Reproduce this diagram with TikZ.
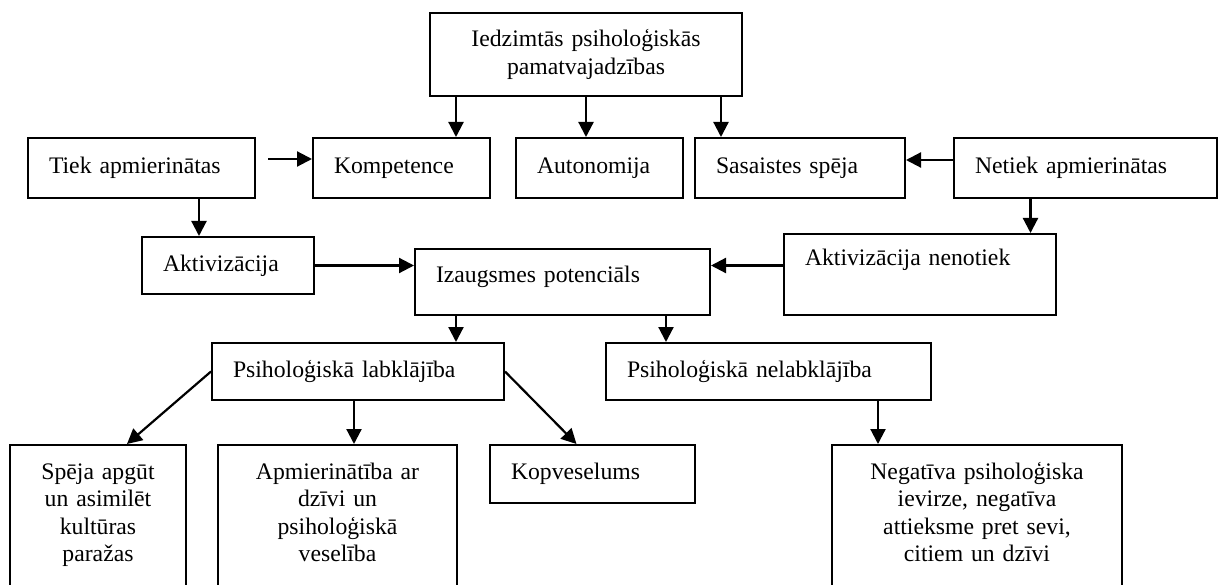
\documentclass[tikz,border=0pt]{standalone}
\usepackage{fontspec}
\setmainfont{Liberation Serif}
\usepackage{tikz}
\usetikzlibrary{positioning,calc,arrows.meta}

\begin{document}
\begin{tikzpicture}[x=1pt,y=-1pt,
    font=\fontsize{23.7}{27.5}\selectfont,
    box/.style={draw, line width=2pt, anchor=north west, inner xsep=21pt, inner ysep=0pt, align=left},
    mbox/.style={box, inner xsep=4pt, align=center},
    arr/.style={line width=2.2pt, -{Triangle[length=15pt,width=15pt]}}]
    \useasboundingbox (0,0) rectangle (1218,585);

    % top row
    \node [box, text width=270pt, minimum height=83pt, align=center] (need) at (429,12) {Iedzimtās psiholoģiskās\\ pamatvajadzības};
    \node [box, text width=185pt, minimum height=60pt] (tiek) at (27,137) {Tiek apmierinātas};
    \node [box, text width=135pt, minimum height=60pt] (komp) at (312,137) {Kompetence};
    \node [box, text width=125pt, minimum height=60pt] (auton) at (515,137) {Autonomija};
    \node [box, text width=168pt, minimum height=60pt] (sasaist) at (694,137) {Sasaistes spēja};
    \node [box, text width=221pt, minimum height=60pt] (netiek) at (953,137) {Netiek apmierinātas};

    % middle
    \node [box, text width=130pt, minimum height=57pt] (aktiv) at (141,236) {Aktivizācija};
    \node [box, text width=253pt, text height=34pt, text depth=32pt] (izaug) at (414,248) {Izaugsmes potenciāls};
    \node [box, text width=230pt, text height=32pt, text depth=49pt] (nenot) at (783,233) {Aktivizācija nenotiek};
    \node [box, text width=250pt, minimum height=57pt] (labkl) at (211,342) {Psiholoģiskā labklājība};
    \node [box, text width=283pt, minimum height=57pt] (nelabkl) at (605,342) {Psiholoģiskā nelabklājība};

    % bottom row
    \node [mbox, text width=168pt, text height=34pt, text depth=160pt] (speja) at (9,444) {Spēja apgūt\\ un asimilēt\\ kultūras\\ paražas};
    \node [mbox, text width=231pt, text height=34pt, text depth=160pt] (apmier) at (217,444) {Apmierinātība ar\\ dzīvi un\\ psiholoģiskā\\ veselība};
    \node [box, text width=163pt, minimum height=58pt] (kopv) at (489,444) {Kopveselums};
    \node [mbox, text width=282pt, text height=34pt, text depth=160pt] (negat) at (831,444) {Negatīva psiholoģiska\\ ievirze, negatīva\\ attieksme pret sevi,\\ citiem un dzīvi};

    % arrows
    \draw [arr] ([xshift=27pt]need.south west) -- ([xshift=27pt]need.south west |- komp.north);
    \draw [arr] (need.south) -- (need.south |- auton.north);
    \draw [arr] ([xshift=-22pt]need.south east) -- ([xshift=-22pt]need.south east |- sasaist.north);
    \draw [arr] ([xshift=12pt,yshift=9pt]tiek.east) -- ([yshift=9pt]komp.west);
    \draw [arr] ([yshift=8pt]netiek.west) -- ([yshift=8pt]sasaist.east);
    \draw [arr] ([xshift=-29pt]aktiv.north |- tiek.south) -- ([xshift=-29pt]aktiv.north);
    \draw [arr] ([xshift=-55pt]netiek.south) -- ([xshift=-55pt]netiek.south |- nenot.north);
    \draw [arr] (aktiv.east) -- (aktiv.east -| izaug.west);
    \draw [arr] (aktiv.east -| nenot.west) -- (aktiv.east -| izaug.east);
    \draw [arr] ([xshift=42pt]izaug.south west) -- ([xshift=42pt]izaug.south west |- labkl.north);
    \draw [arr] ([xshift=-45pt]izaug.south east) -- ([xshift=-45pt]izaug.south east |- nelabkl.north);
    \draw [arr] (labkl.west) -- ([xshift=29pt]speja.north);
    \draw [arr] ([xshift=-4pt]labkl.south) -- ([xshift=-4pt]labkl.south |- apmier.north);
    \draw [arr] (labkl.east) -- ([xshift=-16pt]kopv.north);
    \draw [arr] ([xshift=47pt]negat.north west |- nelabkl.south) -- ([xshift=47pt]negat.north west);
\end{tikzpicture}
\end{document}
